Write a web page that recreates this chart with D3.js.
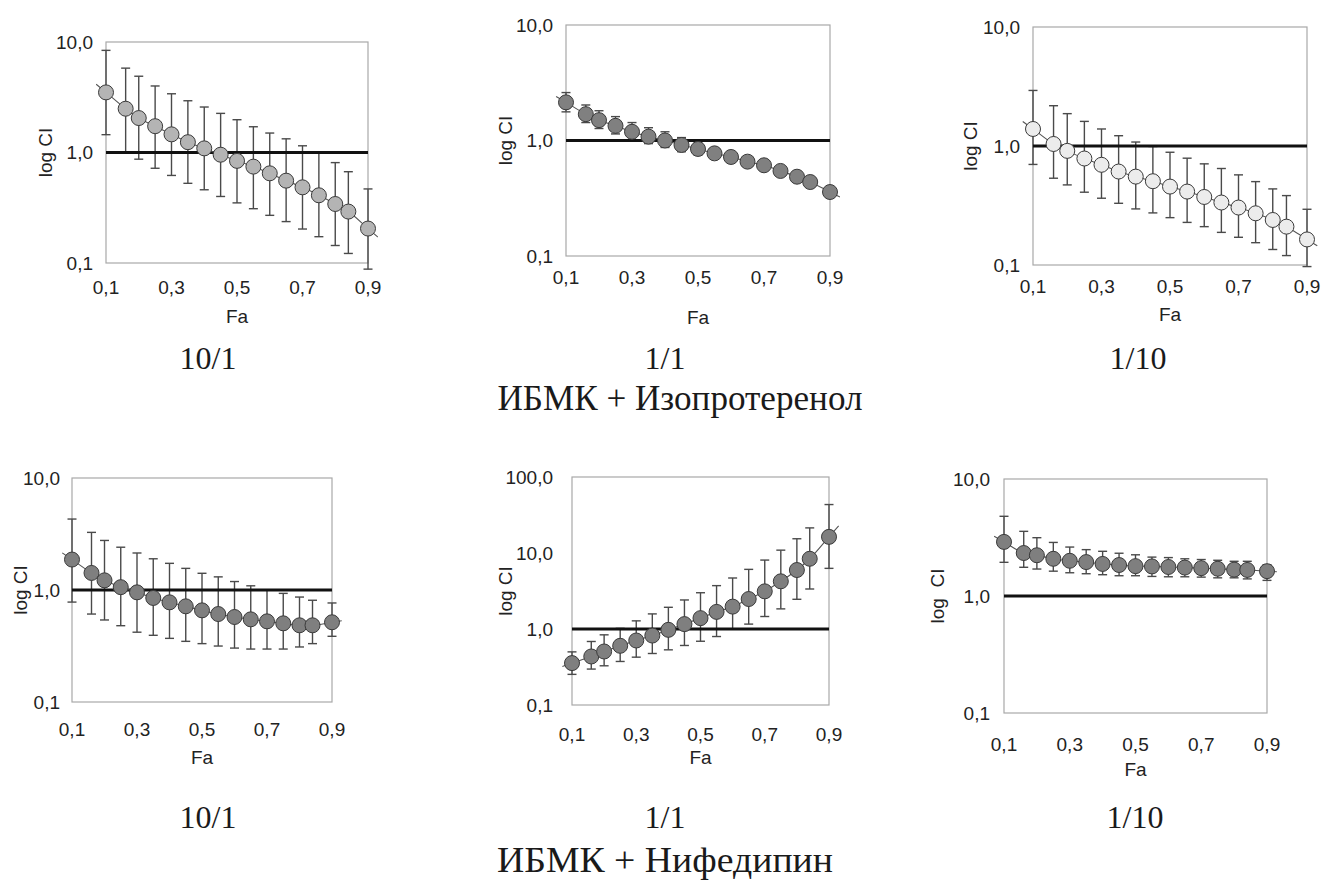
<!DOCTYPE html>
<html>
<head>
<meta charset="utf-8">
<script src="https://cdn.jsdelivr.net/npm/d3@7"></script>
<style>
  body { margin: 0; background: #fff; }
  text { font-family: "Liberation Sans", Arial, sans-serif; fill: #222; }
  .cap { font-family: "Liberation Serif", "Times New Roman", serif; fill: #1a1a1a; }
</style>
</head>
<body>
<svg id="svg" width="1333" height="882"></svg>
<script>
// Fa values (same for all six panels)
var fa = [0.1, 0.16, 0.2, 0.25, 0.3, 0.35, 0.4, 0.45, 0.5, 0.55, 0.6, 0.65, 0.7, 0.75, 0.8, 0.84, 0.9];
var xTicks = [0.1, 0.3, 0.5, 0.7, 0.9];
var yTicks3 = [0.1, 1, 10];
var yTicks4 = [0.1, 1, 10, 100];

// ИБМК + Изопротеренол
var iso101 = [3.5, 2.49, 2.05, 1.73, 1.46, 1.24, 1.09, 0.955, 0.84, 0.745, 0.648, 0.556, 0.484, 0.41, 0.342, 0.292, 0.205];
var iso101Hi = [8.4, 5.8, 4.9, 4.0, 3.4, 2.94, 2.58, 2.26, 1.98, 1.71, 1.5, 1.33, 1.15, 1.0, 0.81, 0.67, 0.468];
var iso101Lo = [1.45, 1.01, 0.87, 0.72, 0.62, 0.526, 0.46, 0.40, 0.35, 0.31, 0.27, 0.237, 0.203, 0.173, 0.144, 0.122, 0.088];

var iso11 = [2.14, 1.69, 1.5, 1.34, 1.19, 1.08, 1.0, 0.915, 0.845, 0.774, 0.72, 0.656, 0.61, 0.545, 0.486, 0.437, 0.358];
var iso11Hi = [2.6, 2.03, 1.81, 1.61, 1.43, 1.29, 1.19, 1.06, 0.95, 0.85, 0.78, 0.71, 0.655, 0.58, 0.51, 0.455, 0.37];
var iso11Lo = [1.77, 1.43, 1.27, 1.14, 1.0, 0.94, 0.87, 0.80, 0.75, 0.70, 0.66, 0.61, 0.57, 0.51, 0.46, 0.42, 0.345];

var iso110 = [1.39, 1.04, 0.91, 0.785, 0.695, 0.61, 0.553, 0.506, 0.456, 0.414, 0.373, 0.335, 0.304, 0.272, 0.239, 0.21, 0.164];
var iso110Hi = [2.93, 2.18, 1.87, 1.61, 1.39, 1.22, 1.08, 0.99, 0.886, 0.79, 0.708, 0.647, 0.572, 0.502, 0.436, 0.383, 0.294];
var iso110Lo = [0.70, 0.536, 0.471, 0.409, 0.364, 0.33, 0.296, 0.274, 0.25, 0.228, 0.21, 0.188, 0.171, 0.154, 0.135, 0.12, 0.097];

// ИБМК + Нифедипин
var nif101 = [1.87, 1.42, 1.22, 1.06, 0.953, 0.849, 0.776, 0.715, 0.658, 0.61, 0.574, 0.547, 0.525, 0.504, 0.484, 0.484, 0.515];
var nif101Hi = [4.3, 3.27, 2.77, 2.41, 2.14, 1.9, 1.73, 1.56, 1.41, 1.31, 1.19, 1.09, 1.0, 0.933, 0.865, 0.81, 0.766];
var nif101Lo = [0.78, 0.61, 0.54, 0.48, 0.42, 0.394, 0.37, 0.348, 0.332, 0.316, 0.303, 0.297, 0.297, 0.297, 0.31, 0.332, 0.386];

var nif11 = [0.356, 0.435, 0.506, 0.601, 0.706, 0.82, 0.975, 1.16, 1.39, 1.68, 1.97, 2.48, 3.13, 4.24, 5.97, 8.4, 16.3];
var nif11Hi = [0.50, 0.685, 0.838, 1.02, 1.28, 1.58, 1.93, 2.41, 3.0, 3.72, 4.69, 6.09, 8.07, 10.9, 15.4, 21.4, 43.4];
var nif11Lo = [0.253, 0.297, 0.328, 0.374, 0.426, 0.476, 0.532, 0.607, 0.69, 0.796, 1.0, 1.16, 1.46, 1.84, 2.46, 3.36, 6.28];

var nif110 = [2.9, 2.33, 2.23, 2.08, 2.0, 1.95, 1.88, 1.84, 1.80, 1.79, 1.77, 1.75, 1.73, 1.71, 1.68, 1.67, 1.63];
var nif110Hi = [4.8, 3.57, 3.15, 2.87, 2.62, 2.49, 2.41, 2.32, 2.25, 2.15, 2.13, 2.08, 2.05, 2.02, 1.98, 1.98, 1.85];
var nif110Lo = [1.94, 1.76, 1.70, 1.63, 1.58, 1.55, 1.52, 1.49, 1.49, 1.47, 1.46, 1.46, 1.45, 1.43, 1.43, 1.40, 1.36];

var captions = ["10/1", "1/1", "1/10"];
var groupTitles = ["ИБМК + Изопротеренол", "ИБМК + Нифедипин"];

var svg = d3.select("#svg");

// box: l,t,r,b ; offsets for labels
var panels = [
  {mid: iso101, hi: iso101Hi, lo: iso101Lo, ticks: yTicks3, fill: "#b4b4b4",
   l: 106, t: 42, r: 368, b: 263, ytx: 13, xtb: 31, fab: 60, ylx: 61, ylabel: "log CI"},
  {mid: iso11, hi: iso11Hi, lo: iso11Lo, ticks: yTicks3, fill: "#808080",
   l: 566, t: 25, r: 830, b: 256, ytx: 13, xtb: 28, fab: 68, ylx: 61, ylabel: "log CI"},
  {mid: iso110, hi: iso110Hi, lo: iso110Lo, ticks: yTicks3, fill: "#ececec",
   l: 1033, t: 27, r: 1307, b: 265, ytx: 13, xtb: 28, fab: 56, ylx: 63, ylabel: "log CI"},
  {mid: nif101, hi: nif101Hi, lo: nif101Lo, ticks: yTicks3, fill: "#7f7f7f",
   l: 72, t: 478, r: 332, b: 702, ytx: 12, xtb: 34, fab: 62, ylx: 52, ylabel: "log CI"},
  {mid: nif11, hi: nif11Hi, lo: nif11Lo, ticks: yTicks4, fill: "#7f7f7f",
   l: 572, t: 477, r: 829, b: 705, ytx: 19, xtb: 36, fab: 59, ylx: 67, ylabel: "log CI"},
  {mid: nif110, hi: nif110Hi, lo: nif110Lo, ticks: yTicks3, fill: "#7f7f7f",
   l: 1004, t: 479, r: 1267, b: 713, ytx: 14, xtb: 38, fab: 63, ylx: 67, ylabel: "log  CI"}
];

var fmt = function(v){ return d3.format(".1f")(v).replace(".", ","); };

panels.forEach(function(p){
  var x = d3.scaleLinear().domain([0.1, 0.9]).range([p.l, p.r]);
  var y = d3.scaleLog().domain([p.ticks[0], p.ticks[p.ticks.length-1]]).range([p.b, p.t]);
  var g = svg.append("g");

  g.append("rect")
    .attr("x", p.l).attr("y", p.t)
    .attr("width", p.r - p.l).attr("height", p.b - p.t)
    .attr("fill", "none").attr("stroke", "#a8a8a8").attr("stroke-width", 1.2);

  // y tick labels
  g.selectAll(".yt").data(p.ticks).enter().append("text")
    .attr("x", p.l - p.ytx).attr("y", function(d){ return y(d); })
    .attr("dy", "0.36em").attr("text-anchor", "end")
    .style("font-size", "19px")
    .text(fmt);

  // x tick labels
  g.selectAll(".xt").data(xTicks).enter().append("text")
    .attr("x", function(d){ return x(d); }).attr("y", p.b + p.xtb)
    .attr("text-anchor", "middle")
    .style("font-size", "19px")
    .text(fmt);

  g.append("text")
    .attr("x", (p.l + p.r) / 2).attr("y", p.b + p.fab)
    .attr("text-anchor", "middle").style("font-size", "19px")
    .text("Fa");

  g.append("text")
    .attr("transform", "translate(" + (p.l - p.ylx) + "," + ((p.t + p.b) / 2) + ") rotate(-90)")
    .attr("dy", "0.36em").attr("text-anchor", "middle")
    .style("font-size", "19px").style("white-space", "pre")
    .attr("xml:space", "preserve")
    .text(p.ylabel);

  var pts = fa.map(function(f, i){ return {x: f, v: p.mid[i], hi: p.hi[i], lo: p.lo[i]}; });

  // error bars
  var eb = g.selectAll(".eb").data(pts).enter().append("g")
    .attr("stroke", "#4a4a4a").attr("stroke-width", 1.4);
  eb.append("line")
    .attr("x1", function(d){ return x(d.x); }).attr("x2", function(d){ return x(d.x); })
    .attr("y1", function(d){ return y(d.hi); }).attr("y2", function(d){ return y(d.lo); });
  eb.append("line")
    .attr("x1", function(d){ return x(d.x) - 4.5; }).attr("x2", function(d){ return x(d.x) + 4.5; })
    .attr("y1", function(d){ return y(d.hi); }).attr("y2", function(d){ return y(d.hi); });
  eb.append("line")
    .attr("x1", function(d){ return x(d.x) - 4.5; }).attr("x2", function(d){ return x(d.x) + 4.5; })
    .attr("y1", function(d){ return y(d.lo); }).attr("y2", function(d){ return y(d.lo); });

  // CI = 1 reference line
  g.append("line")
    .attr("x1", p.l).attr("x2", p.r)
    .attr("y1", y(1)).attr("y2", y(1))
    .attr("stroke", "#111").attr("stroke-width", 3);

  // connecting line, extended a little past the ends
  var n = pts.length;
  function extend(a, b, dx){
    var s = (Math.log(b.v) - Math.log(a.v)) / (b.x - a.x);
    return {x: a.x + dx, v: Math.exp(Math.log(a.v) + s * dx)};
  }
  var linePts = [extend(pts[0], pts[1], -0.03)].concat(pts, [extend(pts[n-1], pts[n-2], 0.03)]);
  g.append("path")
    .datum(linePts)
    .attr("fill", "none").attr("stroke", "#555").attr("stroke-width", 1.1)
    .attr("d", d3.line().curve(d3.curveMonotoneX)
      .x(function(d){ return x(d.x); }).y(function(d){ return y(d.v); }));

  g.selectAll(".pt").data(pts).enter().append("circle")
    .attr("cx", function(d){ return x(d.x); })
    .attr("cy", function(d){ return y(d.v); })
    .attr("r", 7.5)
    .attr("fill", p.fill).attr("stroke", "#3a3a3a").attr("stroke-width", 1);
});

// captions
var capX = [208, 665, 1138];
var capY = [369, 828];
capY.forEach(function(cy, row){
  svg.selectAll(".c" + row).data(captions).enter().append("text")
    .attr("class", "cap")
    .attr("x", function(d, i){ return capX[i] - (row == 1 && i == 2 ? 3 : 0); })
    .attr("y", cy)
    .attr("text-anchor", "middle")
    .style("font-size", "32px")
    .text(function(d){ return d; });
});
svg.selectAll(".gt").data(groupTitles).enter().append("text")
  .attr("class", "cap")
  .attr("x", function(d, i){ return i == 0 ? 680 : 665; })
  .attr("y", function(d, i){ return i == 0 ? 410 : 872; })
  .attr("text-anchor", "middle")
  .attr("textLength", function(d, i){ return i == 0 ? 365 : 336; })
  .attr("lengthAdjust", "spacingAndGlyphs")
  .style("font-size", "35px")
  .text(function(d){ return d; });
</script>
</body>
</html>
